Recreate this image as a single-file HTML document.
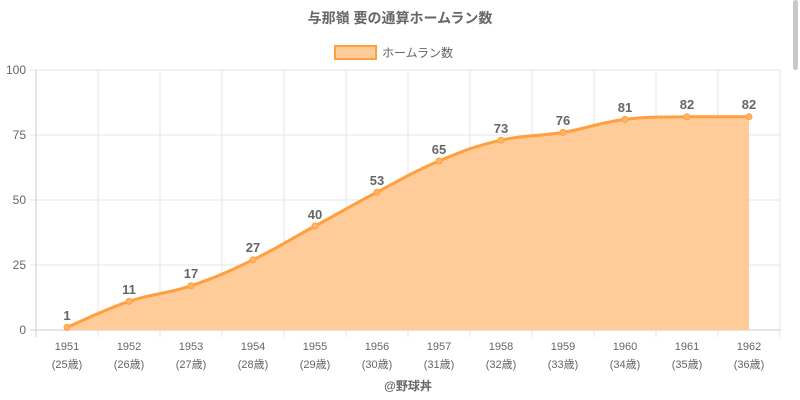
<!DOCTYPE html>
<html><head><meta charset="utf-8"><style>
html,body{margin:0;padding:0;background:#fff;width:800px;height:400px;overflow:hidden}
text{font-family:"Liberation Sans","Noto Sans CJK JP",sans-serif}
</style></head><body>
<svg width="800" height="400" xmlns="http://www.w3.org/2000/svg">
<rect x="793" y="0" width="5" height="70" rx="2.5" fill="#c8c8c8"/>
<text x="400" y="23" text-anchor="middle" font-size="14" font-weight="bold" fill="#666">与那嶺 要の通算ホームラン数</text>
<rect x="335" y="46" width="41" height="13" fill="#ffcc99" stroke="#ff9f40" stroke-width="2"/>
<text x="382" y="57" font-size="12" fill="#666">ホームラン数</text>
<g stroke="#e6e6e6" stroke-width="1">
<line x1="36" y1="70" x2="780" y2="70"/><line x1="36" y1="135" x2="780" y2="135"/><line x1="36" y1="200" x2="780" y2="200"/><line x1="36" y1="265" x2="780" y2="265"/>
<line x1="98" y1="70" x2="98" y2="337"/><line x1="160" y1="70" x2="160" y2="337"/><line x1="222" y1="70" x2="222" y2="337"/><line x1="284" y1="70" x2="284" y2="337"/><line x1="346" y1="70" x2="346" y2="337"/><line x1="408" y1="70" x2="408" y2="337"/><line x1="470" y1="70" x2="470" y2="337"/><line x1="532" y1="70" x2="532" y2="337"/><line x1="594" y1="70" x2="594" y2="337"/><line x1="656" y1="70" x2="656" y2="337"/><line x1="718" y1="70" x2="718" y2="337"/><line x1="780" y1="70" x2="780" y2="337"/>
<line x1="30" y1="70" x2="36" y2="70"/><line x1="30" y1="135" x2="36" y2="135"/><line x1="30" y1="200" x2="36" y2="200"/><line x1="30" y1="265" x2="36" y2="265"/><line x1="30" y1="330" x2="36" y2="330"/>
</g>
<line x1="36" y1="70" x2="36" y2="337" stroke="#ccc"/>
<line x1="30" y1="330" x2="780" y2="330" stroke="#ccc"/>
<g font-size="12" fill="#666" text-anchor="end">
<text x="26" y="74">100</text><text x="26" y="139">75</text><text x="26" y="204">50</text><text x="26" y="269">25</text><text x="26" y="334">0</text>
</g>
<path d="M67,327.4 C79.4,322.2 104.2,309.7 129,301.4 C153.8,293.1 166.2,294.1 191,285.8 C215.8,277.5 228.2,271.8 253,259.8 C277.8,247.8 290.2,239.5 315,226 C339.8,212.5 352.2,205.2 377,192.2 C401.8,179.2 414.2,171.4 439,161 C463.8,150.6 476.2,145.9 501,140.2 C525.8,134.5 538.2,136.6 563,132.4 C587.8,128.2 600.2,122.5 625,119.4 C649.8,116.3 662.2,117.3 687,116.8 C699.4,116.8 736.6,116.8 749,116.8 L749,330 L67,330 Z" fill="#ffcc99" stroke="none"/>
<path d="M67,327.4 C79.4,322.2 104.2,309.7 129,301.4 C153.8,293.1 166.2,294.1 191,285.8 C215.8,277.5 228.2,271.8 253,259.8 C277.8,247.8 290.2,239.5 315,226 C339.8,212.5 352.2,205.2 377,192.2 C401.8,179.2 414.2,171.4 439,161 C463.8,150.6 476.2,145.9 501,140.2 C525.8,134.5 538.2,136.6 563,132.4 C587.8,128.2 600.2,122.5 625,119.4 C649.8,116.3 662.2,117.3 687,116.8 C699.4,116.8 736.6,116.8 749,116.8" fill="none" stroke="#ff9f40" stroke-width="3"/>
<g fill="#ffb366" stroke="#ff9f40" stroke-width="1">
<circle cx="67" cy="327.4" r="3"/><circle cx="129" cy="301.4" r="3"/><circle cx="191" cy="285.8" r="3"/><circle cx="253" cy="259.8" r="3"/><circle cx="315" cy="226" r="3"/><circle cx="377" cy="192.2" r="3"/><circle cx="439" cy="161" r="3"/><circle cx="501" cy="140.2" r="3"/><circle cx="563" cy="132.4" r="3"/><circle cx="625" cy="119.4" r="3"/><circle cx="687" cy="116.8" r="3"/><circle cx="749" cy="116.8" r="3"/>
</g>
<g font-size="13" font-weight="bold" fill="#666" text-anchor="middle">
<text x="67" y="320">1</text><text x="129" y="294">11</text><text x="191" y="278">17</text><text x="253" y="252">27</text><text x="315" y="219">40</text><text x="377" y="185">53</text><text x="439" y="154">65</text><text x="501" y="133">73</text><text x="563" y="125">76</text><text x="625" y="112">81</text><text x="687" y="109">82</text><text x="749" y="109">82</text>
</g>
<g font-size="11" fill="#666" text-anchor="middle">
<text x="67" y="350">1951</text><text x="129" y="350">1952</text><text x="191" y="350">1953</text><text x="253" y="350">1954</text><text x="315" y="350">1955</text><text x="377" y="350">1956</text><text x="439" y="350">1957</text><text x="501" y="350">1958</text><text x="563" y="350">1959</text><text x="625" y="350">1960</text><text x="687" y="350">1961</text><text x="749" y="350">1962</text>
<text x="67" y="368">(25歳)</text><text x="129" y="368">(26歳)</text><text x="191" y="368">(27歳)</text><text x="253" y="368">(28歳)</text><text x="315" y="368">(29歳)</text><text x="377" y="368">(30歳)</text><text x="439" y="368">(31歳)</text><text x="501" y="368">(32歳)</text><text x="563" y="368">(33歳)</text><text x="625" y="368">(34歳)</text><text x="687" y="368">(35歳)</text><text x="749" y="368">(36歳)</text>
</g>
<text x="408" y="390" text-anchor="middle" font-size="12" font-weight="bold" fill="#666">@野球丼</text>
</svg>
</body></html>
